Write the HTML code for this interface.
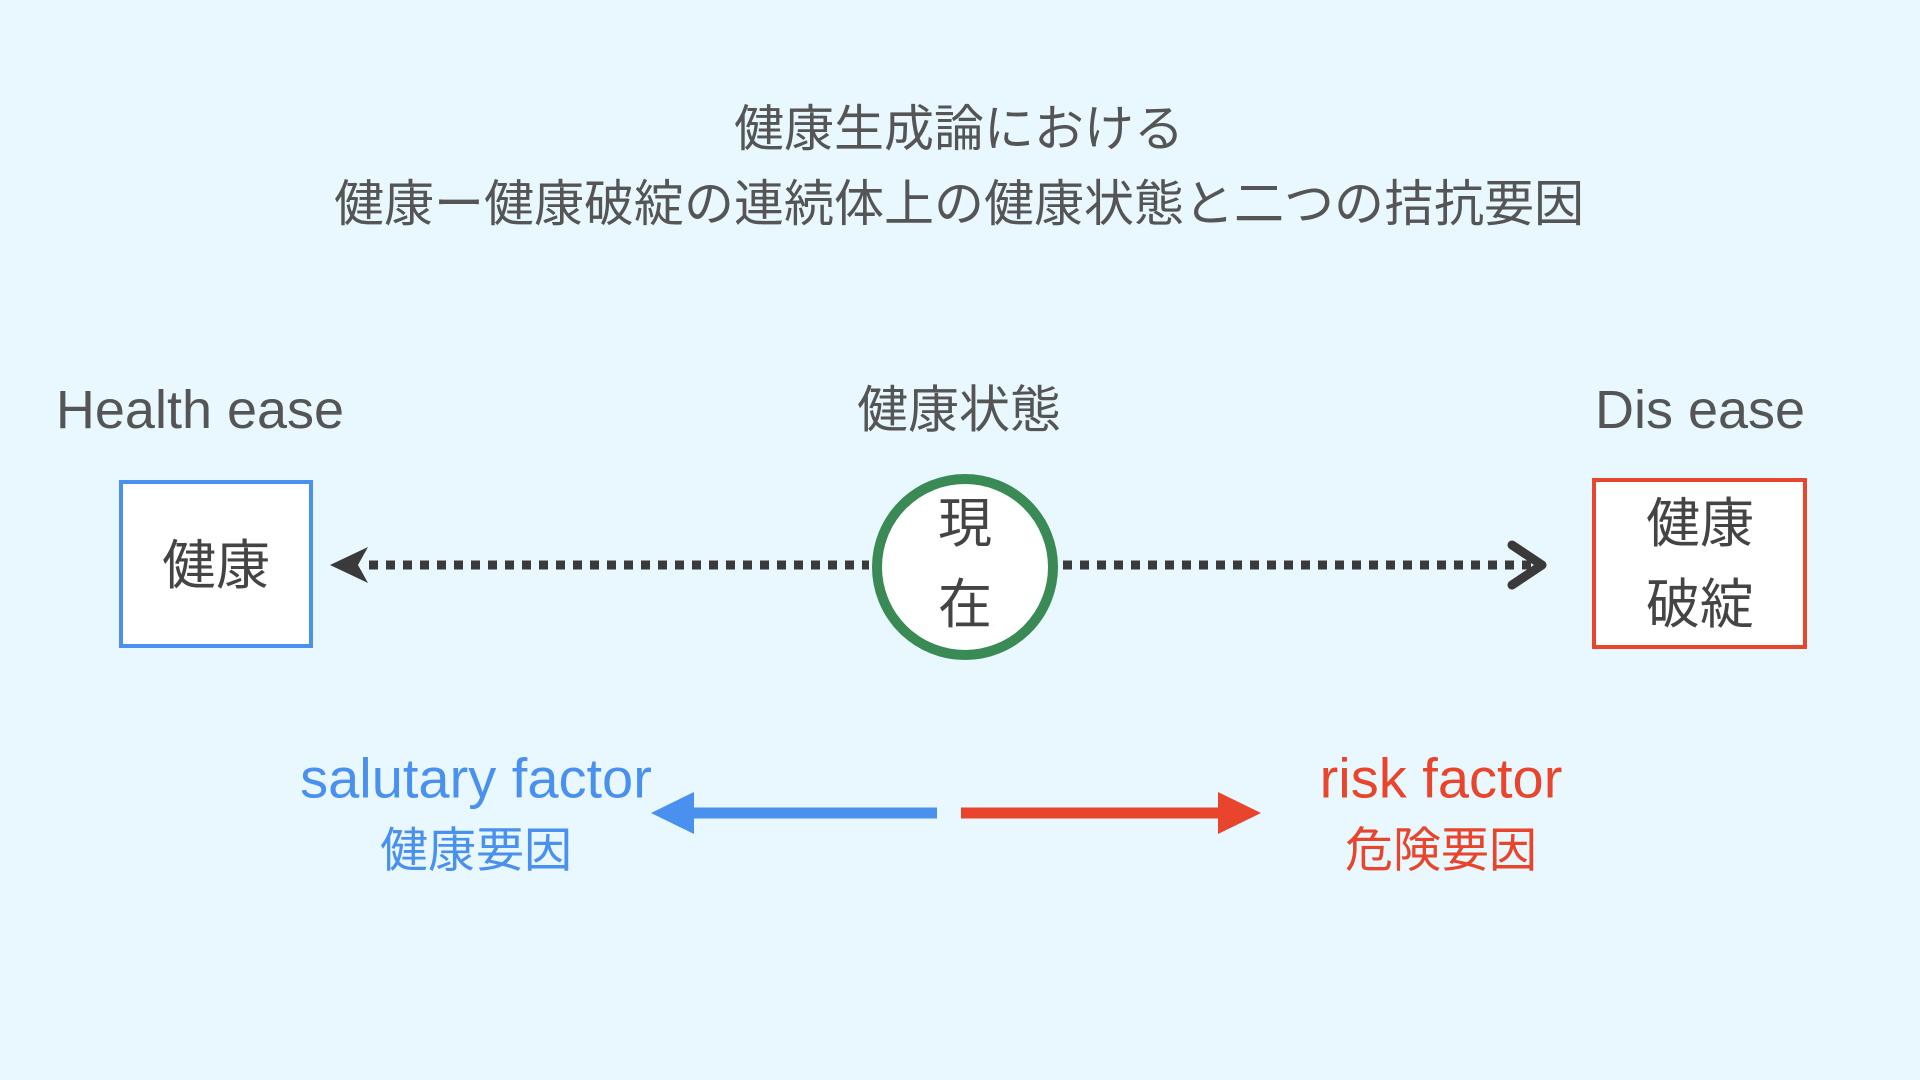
<!DOCTYPE html>
<html><head><meta charset="utf-8"><style>
html,body{margin:0;padding:0;background:#e9f8fe;}
svg{display:block}
text{font-family:"Liberation Sans","Noto Sans CJK JP",sans-serif;}
</style></head><body>
<svg width="1920" height="1080" viewBox="0 0 1920 1080" xmlns="http://www.w3.org/2000/svg">
<rect width="1920" height="1080" fill="#e9f8fe"/>
<g fill="#555" text-anchor="middle" dominant-baseline="central">
<text x="959" y="129" font-size="50">健康生成論における</text>
<text x="959" y="204" font-size="50">健康ー健康破綻の連続体上の健康状態と二つの拮抗要因</text>
<text x="200" y="410" font-size="54">Health ease</text>
<text x="959" y="410" font-size="51">健康状態</text>
<text x="1700" y="410" font-size="54">Dis ease</text>
</g>
<rect x="121" y="482" width="190" height="164" fill="#fff" stroke="#4a90ee" stroke-width="4"/>
<text x="216" y="566" font-size="54" fill="#444" text-anchor="middle" dominant-baseline="central">健康</text>
<rect x="1594" y="480" width="211" height="167" fill="#fff" stroke="#e8452c" stroke-width="4"/>
<text x="1700" y="524" font-size="54" fill="#444" text-anchor="middle" dominant-baseline="central">健康</text>
<text x="1700" y="605" font-size="54" fill="#444" text-anchor="middle" dominant-baseline="central">破綻</text>
<line x1="369" y1="565" x2="869" y2="565" stroke="#3a3a3a" stroke-width="9" stroke-dasharray="9 8"/>
<path d="M368 547 L330 565 L368 583 L358 565 Z" fill="#3a3a3a"/>
<line x1="1063" y1="565" x2="1540" y2="565" stroke="#3a3a3a" stroke-width="9" stroke-dasharray="9 8"/>
<path d="M1512 545 L1542 565 L1512 585" fill="none" stroke="#3a3a3a" stroke-width="9" stroke-linecap="round" stroke-linejoin="round"/>
<circle cx="965" cy="567" r="88" fill="#fff" stroke="#3a8a55" stroke-width="10"/>
<text x="965" y="524" font-size="54" fill="#444" text-anchor="middle" dominant-baseline="central">現</text>
<text x="965" y="605" font-size="54" fill="#444" text-anchor="middle" dominant-baseline="central">在</text>
<g text-anchor="middle" dominant-baseline="central">
<text x="476" y="778" fill="#4a90ee" font-size="56">salutary factor</text>
<text x="476" y="851" fill="#4a90ee" font-size="48">健康要因</text>
<text x="1441" y="778" fill="#e8452c" font-size="56">risk factor</text>
<text x="1441" y="851" fill="#e8452c" font-size="48">危険要因</text>
</g>
<line x1="937" y1="813" x2="690" y2="813" stroke="#4a90ee" stroke-width="11"/>
<path d="M694 792 L651 813 L694 834 Z" fill="#4a90ee"/>
<line x1="961" y1="813" x2="1222" y2="813" stroke="#e8452c" stroke-width="11"/>
<path d="M1218 792 L1261 813 L1218 834 Z" fill="#e8452c"/>
</svg>
</body></html>
